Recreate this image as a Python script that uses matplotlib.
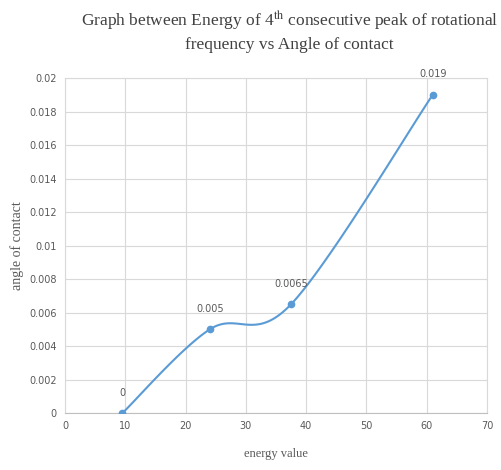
import matplotlib.pyplot as plt
import numpy as np

# data
energy = [9.5, 24, 37.5, 61]
angle = [0, 0.005, 0.0065, 0.019]
point_labels = ["0", "0.005", "0.0065", "0.019"]
xticks = [0, 10, 20, 30, 40, 50, 60, 70]
yticks = [0, 0.002, 0.004, 0.006, 0.008, 0.01, 0.012, 0.014, 0.016, 0.018, 0.02]
ytick_labels = ["0", "0.002", "0.004", "0.006", "0.008", "0.01", "0.012",
                "0.014", "0.016", "0.018", "0.02"]

plt.rcParams['mathtext.fontset'] = 'stix'


# excel-like smoothed line: cubic bezier through the points
def smooth(xs, ys, sx, sy, n=40):
    p = np.column_stack([np.array(xs) * sx, np.array(ys) * sy])
    out = [p[0]]
    for i in range(len(p) - 1):
        p0 = p[i - 1] if i > 0 else p[i]
        p3 = p[i + 2] if i + 2 < len(p) else p[i + 1]
        c1 = p[i] + (p[i + 1] - p0) / 6
        c2 = p[i + 1] - (p3 - p[i]) / 6
        t = np.linspace(0, 1, n)[1:, None]
        seg = ((1 - t) ** 3 * p[i] + 3 * (1 - t) ** 2 * t * c1
               + 3 * (1 - t) * t ** 2 * c2 + t ** 3 * p[i + 1])
        out.extend(seg)
    out = np.array(out)
    return out[:, 0] / sx, out[:, 1] / sy


fig = plt.figure(figsize=(5.01, 4.70), dpi=100)
ax = fig.add_axes([0.13, 0.121, 0.842, 0.713])

blue = '#5B9BD5'
grey = '#595959'

# scale to roughly pixel units so the curve bends like excel's
sx_, sy_ = smooth(energy, angle, 422 / 70, 335 / 0.02)
ax.plot(sx_, sy_, color=blue, lw=1.5, zorder=3)
ax.plot(energy, angle, 'o', color=blue, ms=4.5, zorder=4)

for x, y, lab in zip(energy, angle, point_labels):
    ax.annotate(lab, (x, y), xytext=(0, 11), textcoords='offset points',
                ha='center', va='bottom', fontsize=7, color=grey)

ax.set_xlim(0, 70)
ax.set_ylim(0, 0.02)
ax.set_xticks(xticks)
ax.set_yticks(yticks)
ax.set_yticklabels(ytick_labels)
ax.tick_params(length=0, labelsize=7, colors=grey, pad=6)
ax.grid(True, color='#D9D9D9', lw=0.8)
ax.set_axisbelow(True)
for s in ax.spines.values():
    s.set_color('#D9D9D9')
    s.set_linewidth(0.8)
ax.spines['bottom'].set_color('#BFBFBF')

ax.set_xlabel('energy value', family='Liberation Serif', fontsize=9,
              color=grey, labelpad=12)
ax.set_ylabel('angle of contact', family='Liberation Serif', fontsize=10,
              color=grey, labelpad=4)

fig.text(0.578, 0.935,
         'Graph between Energy of 4$^{\\rm th}$ consecutive peak of rotational\n'
         'frequency vs Angle of contact',
         ha='center', va='center', family='Liberation Serif', fontsize=12.5,
         color='#404040', linespacing=1.45)

fig.savefig('out.png', dpi=100)
